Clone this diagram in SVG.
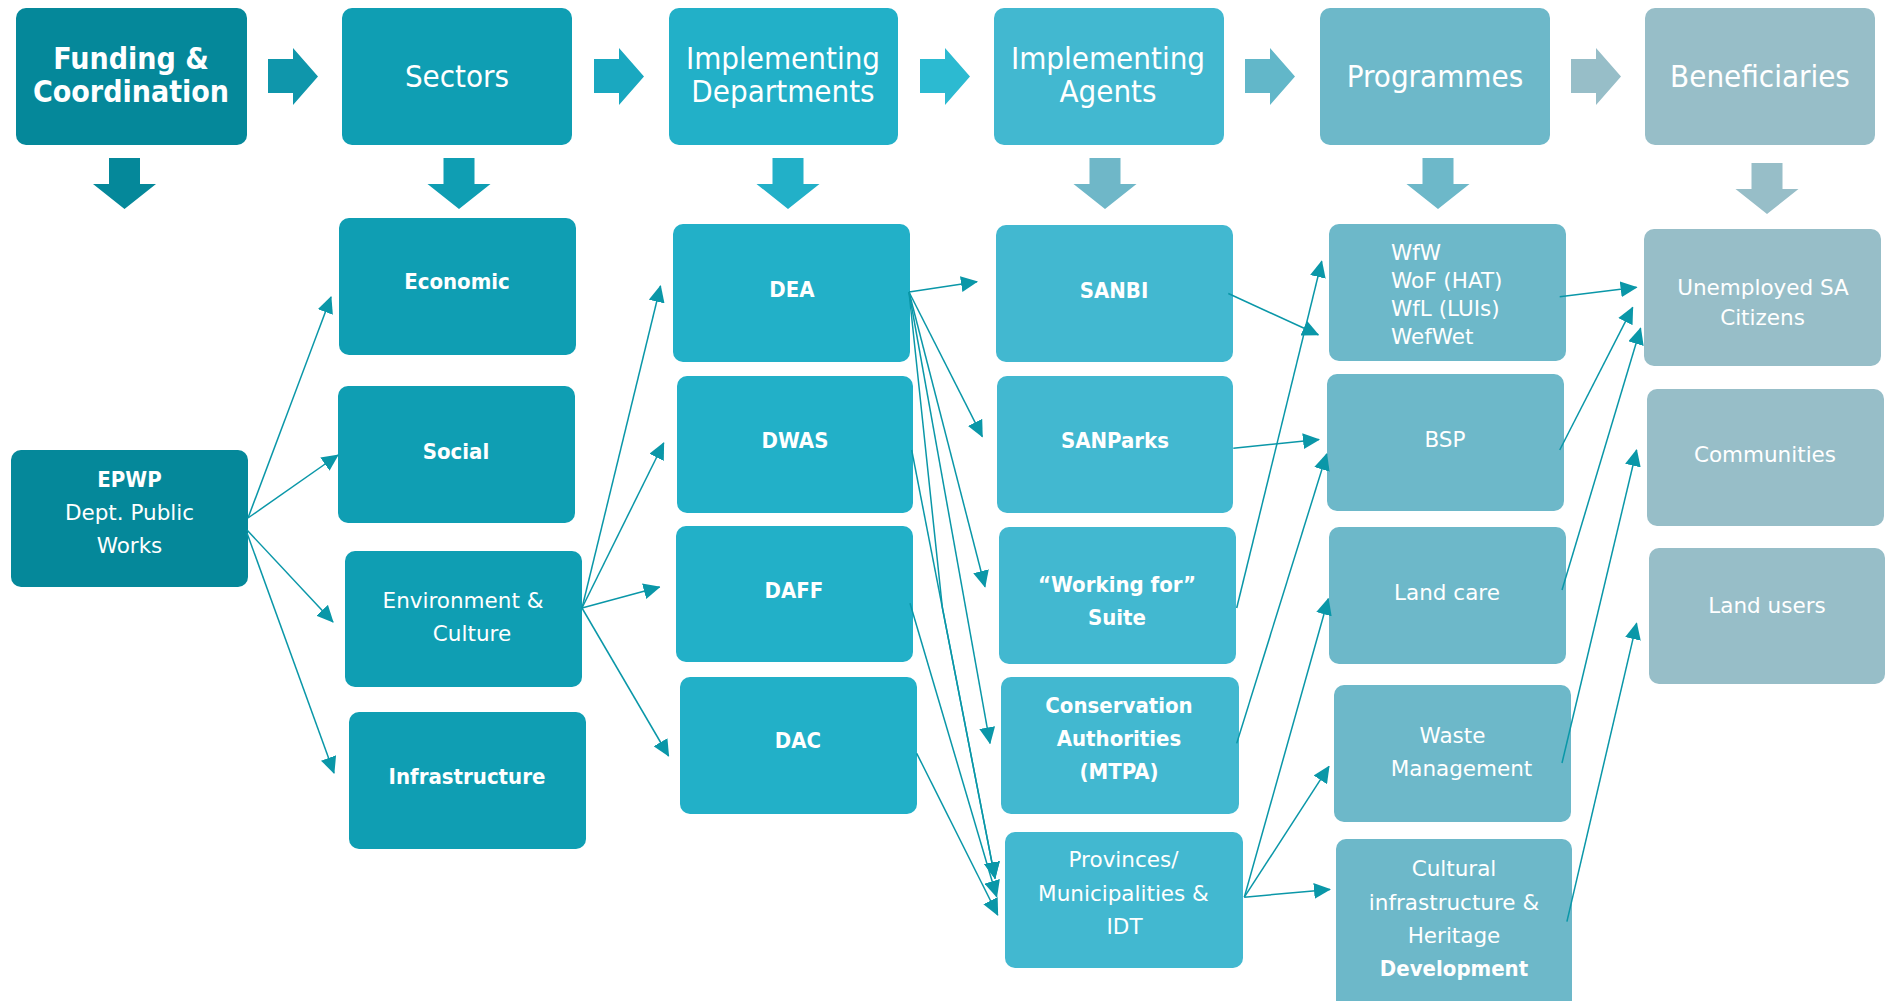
<svg xmlns="http://www.w3.org/2000/svg" width="1885" height="1001" viewBox="0 0 1885 1001">
  <defs>
    <style>
      .c1 { fill: #05889a; }
      .c2 { fill: #0f9eb3; }
      .c3 { fill: #22b0c8; }
      .c4 { fill: #42b8d0; }
      .c5 { fill: #6db8c9; }
      .c6 { fill: #97bec8; }
      text { fill: #ffffff; text-anchor: middle; }
      .hd { font-family: "DejaVu Sans Condensed", "DejaVu Sans", sans-serif; font-stretch: condensed; font-size: 31px; }
      .hdb { font-family: "DejaVu Sans Condensed", "DejaVu Sans", sans-serif; font-stretch: condensed; font-size: 30px; font-weight: bold; }
      .t { font-family: "DejaVu Sans", sans-serif; font-size: 21.5px; }
      .tb { font-family: "DejaVu Sans Condensed", "DejaVu Sans", sans-serif; font-stretch: condensed; font-size: 22px; font-weight: bold; }
      .lft { text-anchor: start; }
      .cn { fill: none; stroke: #0a97a8; stroke-width: 1.5; marker-end: url(#ah); }
    </style>
    <marker id="ah" markerUnits="userSpaceOnUse" markerWidth="17" markerHeight="16" viewBox="0 0 17 16" refX="16" refY="8" orient="auto">
      <path d="M0,0 L17,8 L0,16 z" fill="#0a97a8"/>
    </marker>
    <!-- block arrows, drawn at the origin -->
    <polygon id="rarrow" points="0,0 25,0 25,-11 50,17.5 25,46 25,34 0,34"/>
    <polygon id="darrow" points="-15.5,0 15.5,0 15.5,26 31.5,26 0,51 -31.5,26 -15.5,26"/>
  </defs>

  <!-- header row -->
  <g id="hdr-funding">
    <rect class="c1" x="16" y="8" width="231" height="137" rx="10"/>
    <text class="hdb" x="131" y="69">Funding &amp;</text>
    <text class="hdb" x="131" y="102">Coordination</text>
  </g>
  <g id="hdr-sectors">
    <rect class="c2" x="342" y="8" width="230" height="137" rx="10"/>
    <text class="hd" x="457" y="87">Sectors</text>
  </g>
  <g id="hdr-departments">
    <rect class="c3" x="669" y="8" width="229" height="137" rx="10"/>
    <text class="hd" x="783" y="69">Implementing</text>
    <text class="hd" x="783" y="102">Departments</text>
  </g>
  <g id="hdr-agents">
    <rect class="c4" x="994" y="8" width="230" height="137" rx="10"/>
    <text class="hd" x="1108" y="69">Implementing</text>
    <text class="hd" x="1108" y="102">Agents</text>
  </g>
  <g id="hdr-programmes">
    <rect class="c5" x="1320" y="8" width="230" height="137" rx="10"/>
    <text class="hd" x="1435" y="87">Programmes</text>
  </g>
  <g id="hdr-beneficiaries">
    <rect class="c6" x="1645" y="8" width="230" height="137" rx="10"/>
    <text class="hd" x="1760" y="87">Beneficiaries</text>
  </g>

  <!-- flow arrows between the header boxes -->
  <g id="header-arrows">
    <use href="#rarrow" x="268" y="59" fill="#0f96ab"/>
    <use href="#rarrow" x="594" y="59" fill="#1aa8c0"/>
    <use href="#rarrow" x="920" y="59" fill="#2cbad1"/>
    <use href="#rarrow" x="1245" y="59" fill="#62b7c9"/>
    <use href="#rarrow" x="1571" y="59" fill="#97bec8"/>
    <use href="#darrow" x="124.5" y="158" fill="#05889a"/>
    <use href="#darrow" x="459" y="158" fill="#0f9eb3"/>
    <use href="#darrow" x="788" y="158" fill="#22b0c8"/>
    <use href="#darrow" x="1105" y="158" fill="#6fb7c8"/>
    <use href="#darrow" x="1438" y="158" fill="#6db8c9"/>
    <use href="#darrow" x="1767" y="163" fill="#97bec8"/>
  </g>

  <!-- funding -->
  <g id="epwp">
    <rect class="c1" x="11" y="450" width="237" height="137" rx="10"/>
    <text class="tb" x="129.5" y="487">EPWP</text>
    <text class="t" x="129.5" y="520">Dept. Public</text>
    <text class="t" x="129.5" y="553">Works</text>
  </g>

  <!-- sectors -->
  <g id="economic">
    <rect class="c2" x="339" y="218" width="237" height="137" rx="10"/>
    <text class="tb" x="457" y="289">Economic</text>
  </g>
  <g id="social">
    <rect class="c2" x="338" y="386" width="237" height="137" rx="10"/>
    <text class="tb" x="456" y="459">Social</text>
  </g>
  <g id="environment-culture">
    <rect class="c2" x="345" y="551" width="237" height="136" rx="10"/>
    <text class="t" x="463" y="608">Environment &amp;</text>
    <text class="t" x="472" y="641">Culture</text>
  </g>
  <g id="infrastructure">
    <rect class="c2" x="349" y="712" width="237" height="137" rx="10"/>
    <text class="tb" x="467" y="784">Infrastructure</text>
  </g>

  <!-- implementing departments -->
  <g id="dea">
    <rect class="c3" x="673" y="224" width="237" height="138" rx="10"/>
    <text class="tb" x="792" y="297">DEA</text>
  </g>
  <g id="dwas">
    <rect class="c3" x="677" y="376" width="236" height="137" rx="10"/>
    <text class="tb" x="795" y="448">DWAS</text>
  </g>
  <g id="daff">
    <rect class="c3" x="676" y="526" width="237" height="136" rx="10"/>
    <text class="tb" x="794" y="598">DAFF</text>
  </g>
  <g id="dac">
    <rect class="c3" x="680" y="677" width="237" height="137" rx="10"/>
    <text class="tb" x="798" y="748">DAC</text>
  </g>

  <!-- implementing agents -->
  <g id="sanbi">
    <rect class="c4" x="996" y="225" width="237" height="137" rx="10"/>
    <text class="tb" x="1114" y="298">SANBI</text>
  </g>
  <g id="sanparks">
    <rect class="c4" x="997" y="376" width="236" height="137" rx="10"/>
    <text class="tb" x="1115" y="448">SANParks</text>
  </g>
  <g id="working-for">
    <rect class="c4" x="999" y="527" width="237" height="137" rx="10"/>
    <text class="tb" x="1117" y="592">“Working for”</text>
    <text class="tb" x="1117" y="625">Suite</text>
  </g>
  <g id="conservation">
    <rect class="c4" x="1001" y="677" width="238" height="137" rx="10"/>
    <text class="tb" x="1119" y="713">Conservation</text>
    <text class="tb" x="1119" y="746">Authorities</text>
    <text class="tb" x="1119" y="779">(MTPA)</text>
  </g>
  <g id="provinces">
    <rect class="c4" x="1005" y="832" width="238" height="136" rx="10"/>
    <text class="t" x="1123.5" y="867">Provinces/</text>
    <text class="t" x="1123.5" y="901">Municipalities &amp;</text>
    <text class="t" x="1124.5" y="934">IDT</text>
  </g>

  <!-- programmes -->
  <g id="wfw">
    <rect class="c5" x="1329" y="224" width="237" height="137" rx="10"/>
    <text class="t lft" x="1391" y="260">WfW</text>
    <text class="t lft" x="1391" y="288">WoF (HAT)</text>
    <text class="t lft" x="1391" y="316">WfL (LUIs)</text>
    <text class="t lft" x="1391" y="344">WefWet</text>
  </g>
  <g id="bsp">
    <rect class="c5" x="1327" y="374" width="237" height="137" rx="10"/>
    <text class="t" x="1445" y="447">BSP</text>
  </g>
  <g id="land-care">
    <rect class="c5" x="1329" y="527" width="237" height="137" rx="10"/>
    <text class="t" x="1447" y="600">Land care</text>
  </g>
  <g id="waste">
    <rect class="c5" x="1334" y="685" width="237" height="137" rx="10"/>
    <text class="t" x="1452.5" y="743">Waste</text>
    <text class="t" x="1461.5" y="776">Management</text>
  </g>
  <g id="cultural">
    <rect class="c5" x="1336" y="839" width="236" height="175" rx="10"/>
    <text class="t" x="1454" y="876">Cultural</text>
    <text class="t" x="1454" y="910">infrastructure &amp;</text>
    <text class="t" x="1454" y="943">Heritage</text>
    <text class="tb" x="1454" y="976">Development</text>
  </g>

  <!-- beneficiaries -->
  <g id="unemployed">
    <rect class="c6" x="1644" y="229" width="237" height="137" rx="10"/>
    <text class="t" x="1763" y="295">Unemployed SA</text>
    <text class="t" x="1762.5" y="325">Citizens</text>
  </g>
  <g id="communities">
    <rect class="c6" x="1647" y="389" width="237" height="137" rx="10"/>
    <text class="t" x="1765" y="462">Communities</text>
  </g>
  <g id="land-users">
    <rect class="c6" x="1649" y="548" width="236" height="136" rx="10"/>
    <text class="t" x="1767" y="613">Land users</text>
  </g>

  <!-- connectors -->
  <g id="connectors">
    <!-- EPWP to sectors -->
    <path class="cn" d="M248,518 L331,297"/>
    <path class="cn" d="M248,518 L338,455"/>
    <path class="cn" d="M247,530 L333,622"/>
    <path class="cn" d="M247,533 L334,773"/>
    <!-- Environment & Culture to departments -->
    <path class="cn" d="M582,608 L660.5,286"/>
    <path class="cn" d="M582,608 L663.7,443"/>
    <path class="cn" d="M582,608 L659.6,587"/>
    <path class="cn" d="M582,608 L668.6,756"/>
    <!-- departments to agents -->
    <path class="cn" d="M909,292 L977,281.7"/>
    <path class="cn" d="M909,292 L982.3,436.7"/>
    <path class="cn" d="M909,292 L985,586.7"/>
    <path class="cn" d="M909,292 L990,743.3"/>
    <path class="cn" d="M909,292 L942.4,608 L995,878.3"/>
    <path class="cn" d="M911.7,450 L995,878.3"/>
    <path class="cn" d="M910,603.3 L996.7,896.7"/>
    <path class="cn" d="M916.7,753.3 L997.7,915"/>
    <!-- agents to programmes -->
    <path class="cn" d="M1228.3,293.5 L1318.3,334.8"/>
    <path class="cn" d="M1233.3,448.2 L1319,439.5"/>
    <path class="cn" d="M1236.7,608 L1321.7,261.3"/>
    <path class="cn" d="M1236.7,743.4 L1326.7,454"/>
    <path class="cn" d="M1244.3,897.2 L1328.3,598.8"/>
    <path class="cn" d="M1244.3,897.2 L1329,766.4"/>
    <path class="cn" d="M1244.3,897.2 L1330,889.4"/>
    <!-- programmes to beneficiaries -->
    <path class="cn" d="M1559.7,296.7 L1636.6,287.3"/>
    <path class="cn" d="M1559.7,450 L1632.7,307.3"/>
    <path class="cn" d="M1562,590 L1640.6,328.3"/>
    <path class="cn" d="M1562,763 L1636.6,450"/>
    <path class="cn" d="M1566.9,921.7 L1636.6,623.3"/>
  </g>
</svg>
